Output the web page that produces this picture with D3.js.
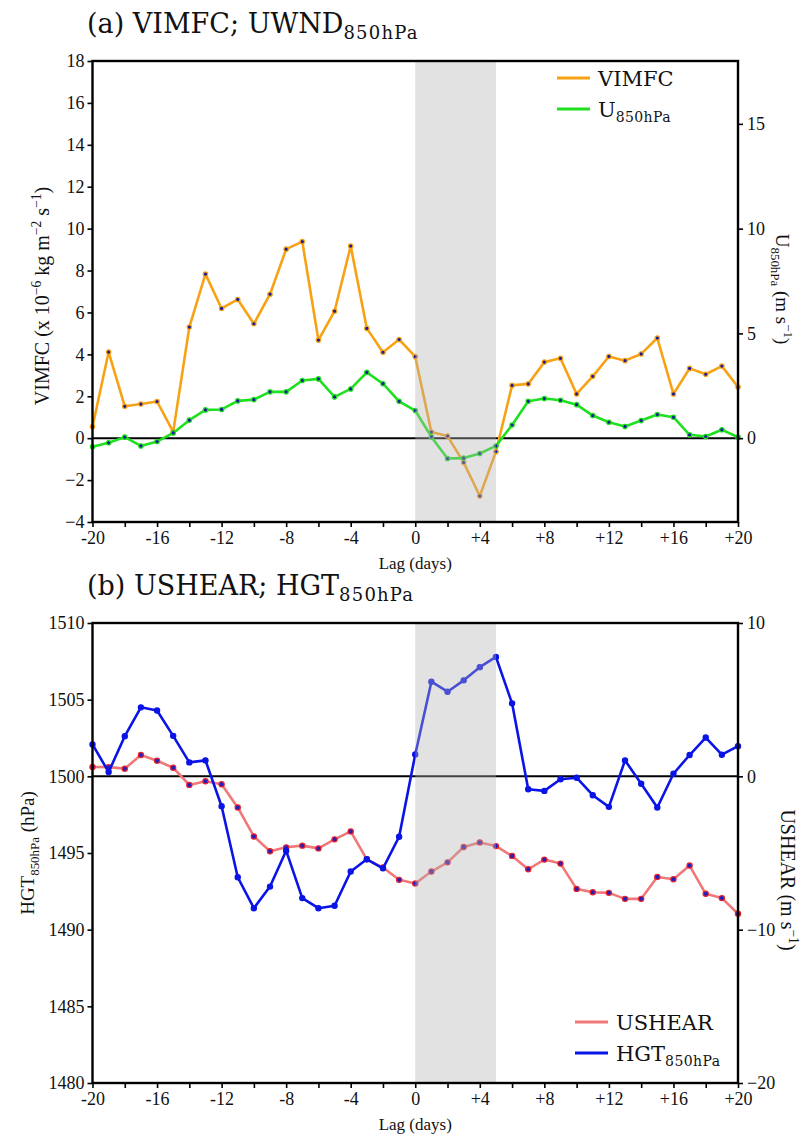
<!DOCTYPE html>
<html>
<head>
<meta charset="utf-8">
<script src="https://cdn.jsdelivr.net/npm/d3@7"></script>
<style>
  body { margin: 0; background: #fff; }
  svg text { fill: #111; }
</style>
</head>
<body>
<div id="chart"></div>
<script>
// lag days -20 .. +20
var lags = d3.range(-20, 21);
var xTickLabels = [-20, -16, -12, -8, -4, 0, 4, 8, 12, 16, 20];

// (a) VIMFC (x10^-6 kg m-2 s-1) and U850hPa (m s-1)
var vimfc = [0.55, 4.11, 1.52, 1.63, 1.75, 0.3, 5.3, 7.83, 6.19, 6.62, 5.46,
  6.87, 9.02, 9.38, 4.68, 6.06, 9.17, 5.24, 4.1, 4.71, 3.89,
  0.29, 0.1, -1.16, -2.76, -0.64, 2.52, 2.59, 3.63, 3.81, 2.11,
  2.95, 3.9, 3.7, 4.02, 4.78, 2.11, 3.33, 3.05, 3.44, 2.44];
var u850 = [-0.41, -0.22, 0.05, -0.37, -0.16, 0.25, 0.86, 1.35, 1.37, 1.78, 1.84,
  2.21, 2.21, 2.75, 2.83, 1.97, 2.35, 3.14, 2.6, 1.76, 1.32,
  0.06, -0.97, -0.95, -0.73, -0.37, 0.63, 1.76, 1.89, 1.81, 1.6,
  1.08, 0.76, 0.56, 0.84, 1.13, 1.0, 0.16, 0.08, 0.4, 0.05];

// (b) HGT850hPa (left axis) and USHEAR (m s-1, right axis)
var hgt = [1502.08, 1500.28, 1502.62, 1504.5, 1504.29, 1502.64, 1500.91, 1501.04, 1498.05, 1493.42, 1491.4,
  1492.81, 1495.15, 1492.06, 1491.4, 1491.56, 1493.79, 1494.59, 1494.0, 1496.06, 1501.43,
  1506.17, 1505.52, 1506.26, 1507.12, 1507.79, 1504.76, 1499.16, 1499.05, 1499.81, 1499.91,
  1498.77, 1498.01, 1501.04, 1499.52, 1497.97, 1500.17, 1501.39, 1502.53, 1501.41, 1501.97];
var ushear = [0.61, 0.6, 0.5, 1.39, 1.02, 0.56, -0.56, -0.32, -0.52, -2.03, -3.92,
  -4.89, -4.63, -4.52, -4.7, -4.11, -3.59, -5.41, -5.95, -6.75, -6.99,
  -6.21, -5.61, -4.61, -4.31, -4.55, -5.19, -6.06, -5.43, -5.69, -7.34,
  -7.56, -7.6, -7.99, -7.99, -6.56, -6.71, -5.82, -7.66, -7.94, -8.96];

var shadeRange = [0, 5];

var W = 802, H = 1139;
var serif = "'Liberation Serif', 'Times New Roman', Times, serif";
var dejavu = "'DejaVu Serif', serif";

var svg = d3.select("#chart").append("svg")
  .attr("width", W).attr("height", H);

// write text with sub/superscript parts, keeping track of the baseline shift
function rich(sel, parts, size, subSize, subSpacing) {
  var shift = 0;
  parts.forEach(function (p) {
    var target = p.sub ? size * 0.24 : (p.sup ? -size * 0.4 : 0);
    var t = sel.append("tspan").text(p.t);
    if (target !== shift) t.attr("dy", target - shift);
    shift = target;
    if (p.sub || p.sup) {
      t.attr("font-size", subSize || size * 0.68);
      if (subSpacing) t.attr("letter-spacing", subSpacing);
    }
  });
  return sel;
}

function drawPanel(o) {
  var g = svg.append("g");
  var x = d3.scaleLinear().domain([-20, 20]).range([o.left, o.right]);
  var yL = d3.scaleLinear().domain(o.leftDomain).range([o.bottom, o.top]);
  var yR = d3.scaleLinear().domain(o.rightDomain).range([o.bottom, o.top]);

  // zero line
  g.append("line")
    .attr("x1", o.left).attr("x2", o.right)
    .attr("y1", yR(0)).attr("y2", yR(0))
    .attr("stroke", "#000").attr("stroke-width", 2);

  var line = function (scale) {
    return d3.line().x(function (d, i) { return x(lags[i]); })
      .y(function (d) { return scale(d); });
  };

  o.series.forEach(function (s) {
    var sc = s.axis === "left" ? yL : yR;
    g.append("path").datum(s.values)
      .attr("d", line(sc))
      .attr("fill", "none")
      .attr("stroke", s.color)
      .attr("stroke-width", 2.6)
      .attr("stroke-linejoin", "round");
    g.selectAll(null).data(s.values).enter().append("circle")
      .attr("cx", function (d, i) { return x(lags[i]); })
      .attr("cy", function (d) { return sc(d); })
      .attr("r", s.r)
      .attr("fill", s.dot)
      .attr("stroke", s.ring)
      .attr("stroke-width", 1.2);
  });

  // shaded period drawn over the lines
  g.append("rect")
    .attr("x", x(shadeRange[0])).attr("y", o.top)
    .attr("width", x(shadeRange[1]) - x(shadeRange[0]))
    .attr("height", o.bottom - o.top)
    .attr("fill", "#b4b4b4").attr("fill-opacity", 0.38);

  // axes
  var xAxis = d3.axisBottom(x).tickValues(d3.range(-20, 21, 2))
    .tickSize(5).tickPadding(4)
    .tickFormat(function (d) {
      if (xTickLabels.indexOf(d) < 0) return "";
      return d > 0 ? "+" + d : String(d);
    });
  var gx = g.append("g").attr("transform", "translate(0," + o.bottom + ")").call(xAxis);
  gx.selectAll(".tick text").filter(function () { return this.textContent === ""; }).remove();

  var gl = g.append("g").attr("transform", "translate(" + o.left + ",0)")
    .call(d3.axisLeft(yL).tickValues(o.leftTicks).tickSize(5).tickPadding(3)
      .tickFormat(d3.format("d")));
  var gr = g.append("g").attr("transform", "translate(" + o.right + ",0)")
    .call(d3.axisRight(yR).tickValues(o.rightTicks).tickSize(5).tickPadding(4)
      .tickFormat(d3.format("d")));

  [gx, gl, gr].forEach(function (a) {
    a.attr("font-family", serif).attr("font-size", 18);
    a.select(".domain").remove();
    a.selectAll(".tick line").attr("stroke", "#000").attr("stroke-width", 1.6);
    a.selectAll(".tick text").style("font-family", serif).attr("font-size", 18)
      .attr("fill", "#111");
  });

  // frame
  g.append("rect")
    .attr("x", o.left).attr("y", o.top)
    .attr("width", o.right - o.left).attr("height", o.bottom - o.top)
    .attr("fill", "none").attr("stroke", "#000").attr("stroke-width", 2.4);

  // title
  rich(g.append("text").attr("x", 87).attr("y", o.top - 28)
    .style("font-family", dejavu).attr("font-size", 27), o.title, 27, 18, 1.2);

  // x label
  g.append("text").attr("x", (o.left + o.right) / 2).attr("y", o.bottom + 47)
    .attr("text-anchor", "middle").style("font-family", serif).attr("font-size", 17)
    .text("Lag (days)");

  // y labels
  rich(g.append("text")
    .attr("transform", "translate(" + o.leftLabelX + "," + o.leftLabelY + ") rotate(-90)")
    .attr("text-anchor", "middle").style("font-family", serif).attr("font-size", o.leftLabelSize),
    o.leftLabel, o.leftLabelSize);
  rich(g.append("text")
    .attr("transform", "translate(" + o.rightLabelX + "," + o.rightLabelY + ") rotate(90)")
    .attr("text-anchor", "middle").style("font-family", serif).attr("font-size", o.rightLabelSize),
    o.rightLabel, o.rightLabelSize);

  // legend
  o.series.forEach(function (s, i) {
    var ly = o.legendY + i * 31;
    g.append("line")
      .attr("x1", o.legendX).attr("x2", o.legendX + 33)
      .attr("y1", ly).attr("y2", ly)
      .attr("stroke", s.color).attr("stroke-width", 2.8);
    rich(g.append("text").attr("x", o.legendX + 41).attr("y", ly + 8)
      .style("font-family", dejavu).attr("font-size", 21), s.label, 21, 14, 0.4);
  });
}

drawPanel({
  top: 61, bottom: 522, left: 92.5, right: 738,
  leftDomain: [-4, 18], rightDomain: [-4, 18],
  leftTicks: d3.range(-4, 19, 2), rightTicks: [0, 5, 10, 15],
  title: [{ t: "(a) VIMFC; UWND" }, { t: "850hPa", sub: true }],
  leftLabel: [{ t: "VIMFC (x 10" }, { t: "\u22126", sup: true }, { t: " kg m" },
    { t: "\u22122", sup: true }, { t: " s" }, { t: "\u22121", sup: true }, { t: ")" }],
  leftLabelX: 49, leftLabelY: 296, leftLabelSize: 20,
  rightLabel: [{ t: "U" }, { t: "850hPa", sub: true }, { t: " (m s" },
    { t: "\u22121", sup: true }, { t: ")" }],
  rightLabelX: 776, rightLabelY: 289, rightLabelSize: 19,
  legendX: 557, legendY: 78,
  series: [
    { values: vimfc, axis: "left", color: "#f7a215", dot: "#1a1a9a", ring: "#f7a215", r: 2.2,
      label: [{ t: "VIMFC" }] },
    { values: u850, axis: "right", color: "#1ee01e", dot: "#1a1a9a", ring: "#1ee01e", r: 2.2,
      label: [{ t: "U" }, { t: "850hPa", sub: true }] }
  ]
});

drawPanel({
  top: 623, bottom: 1083, left: 92.5, right: 738,
  leftDomain: [1480, 1510], rightDomain: [-20, 10],
  leftTicks: d3.range(1480, 1511, 5), rightTicks: [-20, -10, 0, 10],
  title: [{ t: "(b) USHEAR; HGT" }, { t: "850hPa", sub: true }],
  leftLabel: [{ t: "HGT" }, { t: "850hPa", sub: true }, { t: " (hPa)" }],
  leftLabelX: 34, leftLabelY: 853, leftLabelSize: 19,
  rightLabel: [{ t: "USHEAR (m s" }, { t: "\u22121", sup: true }, { t: ")" }],
  rightLabelX: 781, rightLabelY: 880, rightLabelSize: 20,
  legendX: 575, legendY: 1022,
  series: [
    { values: ushear, axis: "right", color: "#f07878", dot: "#2020c0", ring: "#e8202a", r: 2.6,
      label: [{ t: "USHEAR" }] },
    { values: hgt, axis: "left", color: "#0a14e6", dot: "#0a14e6", ring: "#0a14e6", r: 2.6,
      label: [{ t: "HGT" }, { t: "850hPa", sub: true }] }
  ]
});
</script>
</body>
</html>
